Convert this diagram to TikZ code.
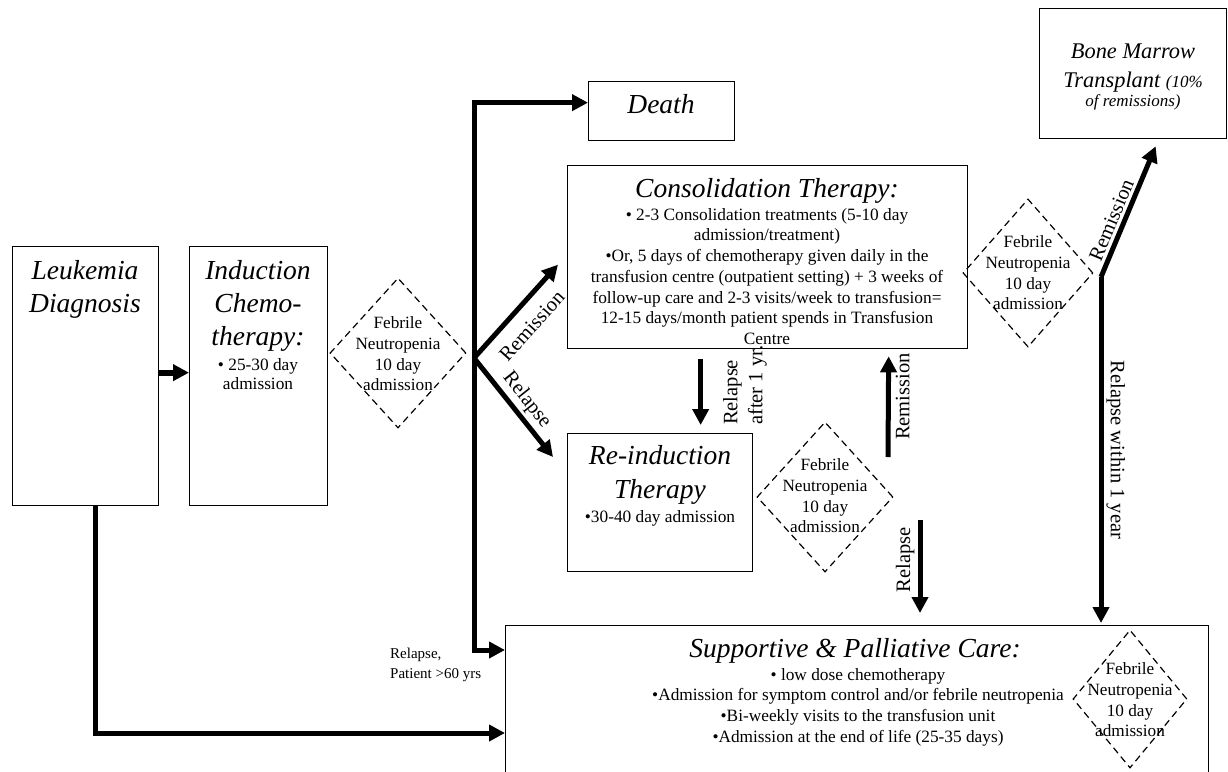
\documentclass[tikz,border=0pt]{standalone}
\usepackage{fontspec}
\setmainfont{Liberation Serif}
\usetikzlibrary{arrows.meta,shapes.geometric,calc}
\begin{document}
\begin{tikzpicture}[x=1pt,y=-1pt,
 box/.style={draw, line width=1.3pt, inner sep=0pt, anchor=north west},
 ttl/.style={font=\fontsize{27.5}{33}\selectfont\itshape, align=center, inner sep=0pt, anchor=north},
 body/.style={font=\fontsize{17.3}{20.7}\selectfont, align=center, inner sep=0pt, anchor=north},
 fn/.style={draw, diamond, dash pattern=on 7pt off 4.5pt, line width=1.2pt, inner sep=0pt},
 fntxt/.style={font=\fontsize{17.2}{20.6}\selectfont, align=center, inner sep=0pt},
 arr/.style={line width=5pt, -{Triangle[length=16pt,width=16pt]}},
 lbl/.style={font=\fontsize{20.5}{25}\selectfont, inner sep=2pt},
]
\useasboundingbox (0,0) rectangle (1228,771);
\clip (0,0) rectangle (1228,771);

% boxes
\node[box, minimum width=146pt, minimum height=259pt] (leuk) at (12,246) {};
\node[ttl] (leukT) at (85,260) {Leukemia\\Diagnosis};

\node[box, minimum width=138pt, minimum height=259pt] (ind) at (189,246) {};
\node[ttl] (indT) at (258,260) {Induction\\Chemo-\\therapy:};
\node[body, font=\fontsize{17.3}{19.3}\selectfont] (indB) at (258,358) {• 25-30 day\\admission};

\node[box, minimum width=146pt, minimum height=59pt] (death) at (588,81) {};
\node[ttl] (deathT) at (661,94) {Death};

\node[box, minimum width=400pt, minimum height=183pt] (cons) at (567,165) {};
\node[ttl] (consT) at (767,178) {Consolidation Therapy:};
\node[body] (consB) at (767,208) {• 2-3 Consolidation treatments (5-10 day\\admission/treatment)\\•Or, 5 days of chemotherapy given daily in the\\transfusion centre (outpatient setting) + 3 weeks of\\follow-up care and 2-3 visits/week to transfusion=\\12-15 days/month patient spends in Transfusion\\Centre};

\node[box, minimum width=185pt, minimum height=138pt] (reind) at (567,433) {};
\node[ttl, font=\fontsize{27.5}{34}\selectfont\itshape] (reindT) at (660,445) {Re-induction\\Therapy};
\node[body] (reindB) at (660,510) {•30-40 day admission};

\node[box, minimum width=187pt, minimum height=130pt] (bmt) at (1039,8) {};
\node[font=\fontsize{22.4}{29}\selectfont\itshape, align=center, inner sep=0pt, anchor=north] (bmtT) at (1133,44) {Bone Marrow\\Transplant {\fontsize{17}{19}\selectfont(10\%}\\[-10.5pt]{\fontsize{17}{19}\selectfont of remissions)}};

\node[box, minimum width=703pt, minimum height=200pt] (supp) at (505,625) {};
\node[ttl] (suppT) at (855,638) {Supportive \& Palliative Care:};
\node[body] (suppB) at (858,668) {• low dose chemotherapy\\•Admission for symptom control and/or febrile neutropenia\\•Bi-weekly visits to the transfusion unit\\•Admission at the end of life (25-35 days)};

% febrile neutropenia diamonds
\node[fn, minimum width=136pt, minimum height=150pt] (fn1) at (398,353) {};
\node[fntxt] (fn1T) at (398,354) {Febrile\\Neutropenia\\10 day\\admission};
\node[fn, minimum width=136pt, minimum height=150pt] (fn2) at (825,497) {};
\node[fntxt] (fn2T) at (825,496) {Febrile\\Neutropenia\\10 day\\admission};
\node[fn, minimum width=130pt, minimum height=148pt] (fn3) at (1028,273) {};
\node[fntxt] (fn3T) at (1028,273) {Febrile\\Neutropenia\\10 day\\admission};
\node[fn, minimum width=114pt, minimum height=138pt] (fn4) at (1130,699) {};
\node[fntxt] (fn4T) at (1130,700) {Febrile\\Neutropenia\\10 day\\admission};

% connectors
\draw[arr, line width=6pt] ([yshift=3.5pt]leuk.east) -- ([yshift=3.5pt]ind.west);
\draw[arr] ([xshift=10pt]leuk.south) |- ([yshift=-108pt]supp.north west);

\coordinate (jn) at (474,358);
\draw[arr] (jn) |- ([yshift=8.5pt]death.west);
\draw[arr] (jn) |- ([yshift=-25pt]supp.north west);
\node[font=\fontsize{15}{20}\selectfont, align=left, inner sep=0pt, anchor=north west] (rp) at (390,648) {Relapse,\\Patient >60 yrs};

\draw[arr] (jn) -- node[lbl, sloped, below=10pt, pos=0.5] (remA) {Remission} ([xshift=-9pt,yshift=-7.5pt]cons.west);
\draw[arr] (jn) -- node[lbl, sloped, above=1pt, pos=0.52] (relA) {Relapse} ([xshift=-14pt,yshift=-24pt]reind.north west);

\draw[arr] ([xshift=-67pt,yshift=-10pt]cons.south) -- ([xshift=40.5pt,yshift=8pt]reind.north);
\node[lbl, rotate=90, align=left, anchor=north west, inner sep=0pt] (lra) at (723,425) {Relapse\\after 1 yr.};

\coordinate (ru) at (888,457);
\draw[arr] (ru) -- node[lbl, rotate=90, anchor=north, inner sep=5pt, pos=0.6] (remB) {Remission} ([xshift=121pt,yshift=-7pt]cons.south);

\coordinate (rd) at (920,520);
\draw[arr] (rd) -- node[lbl, rotate=90, anchor=south, inner sep=3pt, pos=0.43] (relB) {Relapse} ([xshift=415pt,yshift=12pt]supp.north west);

\coordinate (bj) at (1101,277);
\draw[arr] (bj) -- node[lbl, sloped, above=1pt, pos=0.4] (remC) {Remission} ([xshift=22.5pt,yshift=-7pt]bmt.south);
\draw[arr] (bj) -- node[lbl, rotate=-90, anchor=south, inner sep=3pt, pos=0.5] (relC) {Relapse within 1 year} ([xshift=596pt,yshift=2pt]supp.north west);
\end{tikzpicture}
\end{document}
